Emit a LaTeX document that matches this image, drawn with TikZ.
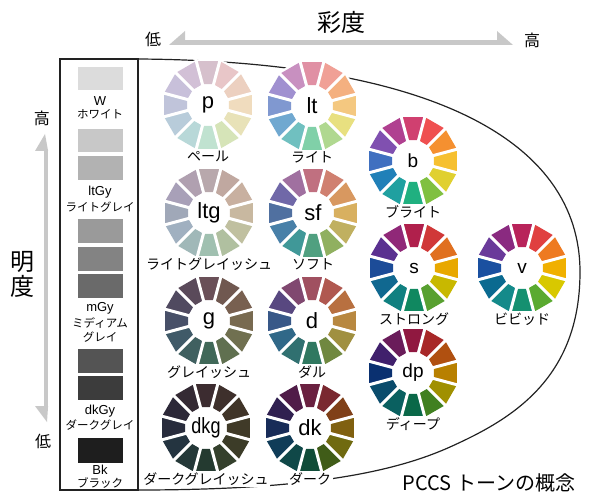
\documentclass[tikz,border=0pt]{standalone}
\usepackage{fontspec}
\setmainfont{Liberation Sans}
\newfontfamily\jp{Noto Sans CJK JP}
\definecolor{arrowgrey}{HTML}{C8C8C8}
\definecolor{outline}{HTML}{222222}
\definecolor{gW}{HTML}{DCDCDC}
\definecolor{gA}{HTML}{C8C8C8}
\definecolor{gB}{HTML}{B2B2B2}
\definecolor{gC}{HTML}{9A9A9A}
\definecolor{gD}{HTML}{838383}
\definecolor{gE}{HTML}{6A6A6A}
\definecolor{gF}{HTML}{545454}
\definecolor{gG}{HTML}{3C3C3C}
\definecolor{gBk}{HTML}{1E1E1E}
\tikzset{
  jplab/.style={font=\jp\fontsize{14}{14}\selectfont, inner sep=1.5pt, fill=white},
  boxlat/.style={font=\fontsize{13}{13}\selectfont, inner sep=0pt},
  boxjp/.style={font=\jp\fontsize{11.5}{11.5}\selectfont, inner sep=0pt},
  axislab/.style={font=\jp\fontsize{16}{16}\selectfont, inner sep=0pt},
  bigjp/.style={font=\jp\fontsize{24}{24}\selectfont, inner sep=0pt},
  outl/.style={draw=outline, line width=1.2pt},
  axisline/.style={draw=arrowgrey, line width=4.5pt},
}
\newcommand{\tonewheel}[7]{%
  \begin{scope}[shift={(#2,#3)}, yscale=-1]
    \fill[white] (0,0) circle (46.5);
    \foreach \wcol [count=\wi] in {#7} {
      \definecolor{wc}{HTML}{\wcol}
      \pgfmathsetmacro\wang{105-30*\wi}
      \fill[wc] (\wang:21.5) -- (\wang+30:21.5) -- (\wang+30:45.5) -- (\wang:45.5) -- cycle;
    }
    \foreach \wk in {0,...,11} \draw[white, line width=3pt] (0,0) -- (15+30*\wk:48);
  \end{scope}
  \node[font=\fontsize{#6}{#6}\selectfont, inner sep=0pt] (#1) at (#2,#3) {#4};
  \node[jplab] (#1-jp) at (#2,#3+51) {#5};
}
\begin{document}
\begin{tikzpicture}[x=1pt, y=-1pt]
\useasboundingbox (0,0) rectangle (589,497);
% outline
\coordinate (b1) at (60,59);
\coordinate (o1) at (138,59);
\coordinate (o2) at (580,272);
\coordinate (o3) at (450,447);
\coordinate (o4) at (138,490);
\draw[outl] (b1) -- (o1) .. controls (430,61) and (580,140) .. (o2)
  .. controls (580,380) and (510,420) .. (o3)
  .. controls (390,474) and (300,490) .. (o4);
\draw[outl] (60,59) rectangle (138,490);
% wheels
\tonewheel{p}{208}{105}{p}{ペール}{22}{D6C0CC,E8C6C8,ECD0C0,F0DCBE,E8E2B8,D6E4B8,C0E2D0,B8D8D8,B8CCDA,C0C4DA,C8C0DA,D2C0D6}
\tonewheel{lt}{312}{106}{lt}{ライト}{22}{E090A4,F0A096,F4B080,F4C880,E8E080,B0D890,80D0A8,70C0C0,70A8D0,8098D0,A090D0,C890C0}
\tonewheel{b}{413}{161}{b}{ブライト}{19}{D04070,EF5050,F59030,F6C030,E0D030,80C040,20B080,20A0A0,2080B8,4070C0,8050B0,B04090}
\tonewheel{ltg}{209}{213}{ltg}{ライトグレイッシュ}{22}{B8A8AC,C0A8A0,C8B0A0,C8B8A0,C0C0A0,B0C0A0,A0C0B0,A0B8B8,A0B0C0,A0A8B8,A8A0B8,B0A0B0}
\tonewheel{sf}{313}{213}{sf}{ソフト}{22}{C07080,D08070,D89860,D8B060,C0B060,90B060,50A080,409898,4880A8,5070A0,7068A8,A070A0}
\tonewheel{s}{414}{268}{s}{ストロング}{19}{B0204C,D03838,E07020,E8A800,C8B800,58A030,108860,108080,106890,1C4C98,5A3090,902878}
\tonewheel{v}{522}{268}{v}{ビビッド}{19}{B8235A,E04040,EE7A20,F0B000,D8C800,5AAA30,159070,148A8A,0A6A90,1A50A0,6A3A9A,8A2A80}
\tonewheel{g}{209}{321}{g}{グレイッシュ}{22}{6A5058,705850,786050,786A50,707050,607050,406858,406060,405A68,485068,504A60,5A4A5A}
\tonewheel{d}{312}{321}{d}{ダル}{22}{A05060,B05850,B87040,B88840,A09040,708840,307860,307070,306888,385888,584880,804870}
\tonewheel{dp}{413}{373}{dp}{ディープ}{19}{901840,A82828,B05010,B88000,A09000,408020,0A6848,0A6060,0A4C6C,0A3070,40206C,6A1C5A}
\tonewheel{dkg}{206}{428}{\scalebox{0.82}[1]{dkg}}{ダークグレイッシュ}{22}{3C2C30,3E302C,403428,403A28,3C3C28,34402C,243A30,243838,243440,282C3C,2C2838,342A34}
\tonewheel{dk}{310}{428}{dk}{ダーク}{22}{6A2040,7A2830,804018,806010,706A10,405C18,104C38,104848,103C58,182C58,302050,501C48}
% grey scale
\fill[gW] (78,67) rectangle (123,90);
\fill[gA] (78,129) rectangle (123,152);
\fill[gB] (78,156) rectangle (123,180);
\fill[gC] (78,219) rectangle (123,243);
\fill[gD] (78,247) rectangle (123,271);
\fill[gE] (78,274) rectangle (123,298);
\fill[gF] (78,349) rectangle (123,373);
\fill[gG] (78,376) rectangle (123,400);
\fill[gBk] (78,438) rectangle (123,463);
\node[boxlat] (w) at (100,101) {W};
\node[boxjp] (w-jp) at (100,114) {ホワイト};
\node[boxlat] (ltgy) at (100,192) {ltGy};
\node[boxjp] (ltgy-jp) at (100,207) {ライトグレイ};
\node[boxlat] (mgy) at (100,308) {mGy};
\node[boxjp] (mgy-jp1) at (100,323) {ミディアム};
\node[boxjp] (mgy-jp2) at (100,337) {グレイ};
\node[boxlat] (dkgy) at (100,411) {dkGy};
\node[boxjp] (dkgy-jp) at (100,425) {ダークグレイ};
\node[boxlat] (bk) at (100,470) {Bk};
\node[boxjp] (bk-jp) at (100,483) {ブラック};
% chroma axis
\node[bigjp] (saido) at (341,22) {彩度};
\node[axislab] (c-low) at (153,39) {低};
\node[axislab] (c-high) at (532,40) {高};
\coordinate (h1) at (182,42.5);
\coordinate (h2) at (500,42.5);
\draw[axisline] (h1) -- (h2);
\fill[arrowgrey] (169,45) -- (185,31) -- (185,45) -- cycle;
\fill[arrowgrey] (513,45) -- (497,31) -- (497,45) -- cycle;
% lightness axis
\node[axislab] (l-high) at (42,118) {高};
\node[axislab] (l-low) at (43,441) {低};
\node[bigjp] (mei) at (22,262) {明};
\node[bigjp] (do) at (22,286) {度};
\coordinate (v1) at (45.8,149);
\coordinate (v2) at (45.8,408);
\draw[axisline] (v1) -- (v2);
\fill[arrowgrey] (45,134) -- (35,151) -- (48.1,151) -- cycle;
\fill[arrowgrey] (47,422) -- (35,406) -- (48.1,406) -- cycle;
% title
\node[font=\jp\fontsize{20}{20}\selectfont, inner sep=0pt] (title) at (489,483) {PCCS トーンの概念};
\end{tikzpicture}
\end{document}
